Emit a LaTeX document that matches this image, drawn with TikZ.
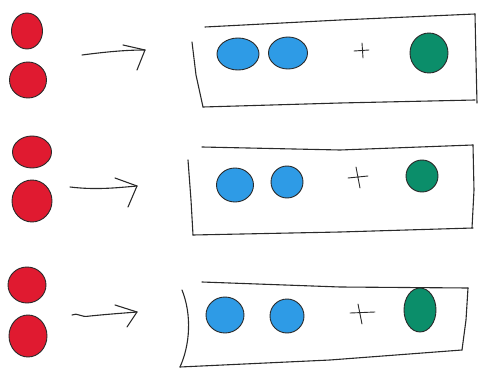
\documentclass[tikz,border=0pt]{standalone}
\usetikzlibrary{shapes.geometric}
\definecolor{redball}{HTML}{E01A30}
\definecolor{blueball}{HTML}{2E9BE6}
\definecolor{greenball}{HTML}{0B8E6A}
\definecolor{pen}{HTML}{2A2A2A}
\tikzset{
  ball/.style={ellipse, inner sep=0pt, draw=pen, line width=0.9pt},
  redb/.style={ball, fill=redball},
  blueb/.style={ball, fill=blueball},
  greenb/.style={ball, fill=greenball},
  sketch/.style={draw=pen, line width=1.1pt, line cap=round, line join=round},
}
\begin{document}
\begin{tikzpicture}[x=1pt,y=-1pt]
\useasboundingbox (0,0) rectangle (480,369);
% ---------- row 1
\node[redb, minimum width=31pt, minimum height=36pt] (r1a) at (27,31) {};
\node[redb, minimum width=37pt, minimum height=36pt] (r1b) at (28,80) {};
\coordinate (a1s) at (82,55); \coordinate (a1e) at (145,50);
\draw[sketch] (a1s) .. controls (105,52) and (125,50) .. (a1e);
\draw[sketch] (123,45) -- (a1e) -- (137,70);
\draw[sketch] (205,27) -- (340,20) -- (475,14);
\draw[sketch] (192,42) -- (196,75) -- (203,107);
\draw[sketch] (203,107) -- (340,103) -- (475,100);
\draw[sketch] (475,14) -- (476,60) -- (477,103);
\node[blueb, minimum width=42pt, minimum height=32pt] (b1a) at (238,54) {};
\node[blueb, minimum width=39pt, minimum height=32pt] (b1b) at (288,53) {};
\draw[sketch, line width=0.9pt] (354,51) -- (369,50) (362,43) -- (363,58);
\node[greenb, minimum width=38pt, minimum height=40pt] (g1) at (429,53) {};
% ---------- row 2
\node[redb, minimum width=39pt, minimum height=32pt] (r2a) at (32,152) {};
\node[redb, minimum width=40pt, minimum height=42pt] (r2b) at (32,201) {};
\coordinate (a2s) at (70,187); \coordinate (a2e) at (137,186);
\draw[sketch] (a2s) .. controls (95,190) and (115,188) .. (a2e);
\draw[sketch] (115,178) -- (a2e) -- (128,207);
\draw[sketch] (202,147) -- (340,150) -- (473,145);
\draw[sketch] (188,160) -- (191,200) -- (193,235);
\draw[sketch] (193,235) -- (340,232) -- (473,228);
\draw[sketch] (473,145) -- (474,190) -- (472,228);
\node[blueb, minimum width=37pt, minimum height=34pt] (b2a) at (235,185) {};
\node[blueb, minimum width=32pt, minimum height=32pt] (b2b) at (287,182) {};
\draw[sketch, line width=0.9pt] (348,178) -- (368,176) (356,167) -- (360,188);
\node[greenb, minimum width=32pt, minimum height=32pt] (g2) at (422,176) {};
% ---------- row 3
\node[redb, minimum width=38pt, minimum height=36pt] (r3a) at (27,285) {};
\node[redb, minimum width=38pt, minimum height=42pt] (r3b) at (28,336) {};
\coordinate (a3s) at (72,315); \coordinate (a3e) at (137,312);
\draw[sketch] (a3s) .. controls (78,312) and (80,318) .. (90,316) .. controls (110,314) and (125,313) .. (a3e);
\draw[sketch] (115,305) -- (a3e) -- (127,327);
\draw[sketch] (202,282) -- (340,287) -- (468,288);
\draw[sketch] (182,290) .. controls (192,315) and (190,345) .. (180,367);
\draw[sketch] (180,367) -- (330,360) -- (462,350);
\draw[sketch] (468,288) -- (466,320) -- (462,350);
\node[blueb, minimum width=38pt, minimum height=36pt] (b3a) at (225,315) {};
\node[blueb, minimum width=34pt, minimum height=34pt] (b3b) at (287,316) {};
\draw[sketch, line width=0.9pt] (350,313) -- (375,312) (358,304) -- (362,324);
\node[greenb, minimum width=32pt, minimum height=44pt] (g3) at (420,310) {};
\end{tikzpicture}
\end{document}
